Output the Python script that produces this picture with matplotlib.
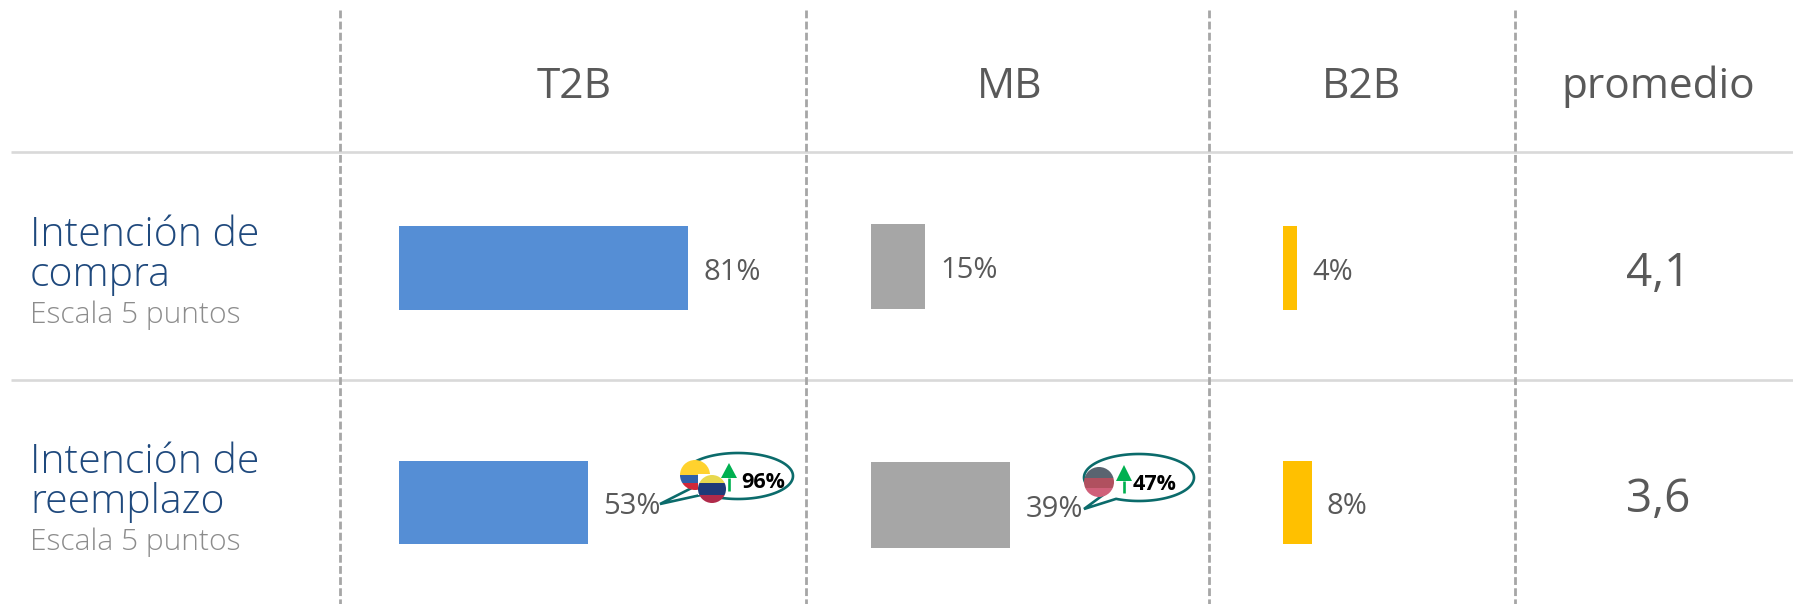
import numpy as np
import matplotlib
matplotlib.use("Agg")
import matplotlib.pyplot as plt
from matplotlib.patches import Circle, Polygon, Rectangle

W, H = 1793, 604

# data
headers = ["T2B", "MB", "B2B", "promedio"]
rows = ["Intención de\ncompra", "Intención de\nreemplazo"]
scale_label = "Escala 5 puntos"
t2b = [81, 53]
mb = [15, 39]
b2b = [4, 8]
promedio = ["4,1", "3,6"]
callouts = ["96%", "47%"]

BLUE = "#558ED5"
GREY = "#A6A6A6"
GOLD = "#FFC000"
TEXT = "#595959"
TEAL = "#0B6B6B"
GREEN = "#00B050"

plt.rcParams["font.family"] = "Open Sans"

fig = plt.figure(figsize=(W / 100, H / 100), dpi=100)

# background axes in pixels, for the table rules and the texts
bg = fig.add_axes([0, 0, 1, 1])
bg.set_xlim(0, W)
bg.set_ylim(H, 0)
bg.axis("off")

for y in [152, 380]:
    bg.plot([11, W], [y, y], color="#D9D9D9", lw=1.9, solid_capstyle="butt")
for x in [340, 806, 1209, 1515]:
    bg.plot([x, x], [10, H], color="#A6A6A6", lw=2, dashes=(2.8, 1.2))

for x, label in zip([574, 1010, 1361, 1658], headers):
    bg.text(x, 87, label, color=TEXT, fontsize=30.5, ha="center", va="center")

for y, label in zip([255.5, 482.5], rows):
    bg.text(30, y, label, color="#1F497D", fontsize=29.5, family="Open Sans", weight="light",
            ha="left", va="center", linespacing=0.98)
for y in [315, 542]:
    bg.text(30, y, scale_label, color="#8C8C8C", fontsize=21.6, family="Open Sans", weight="light",
            ha="left", va="center")

for y, label in zip([274, 500], promedio):
    bg.text(1658, y, label, color=TEXT, fontsize=33, ha="center", va="center")


def bar_axes(left, values, color, centers, heights):
    # 1% is about 3.57 px on all three columns
    ax = fig.add_axes([left / W, 0, 300 / W, 1])
    ax.set_xlim(0, 300 / 3.57)
    ax.set_ylim(H, 0)
    ax.axis("off")
    ax.patch.set_alpha(0)
    ax.barh(centers, values, height=heights, color=color)
    for v, c in zip(values, centers):
        ax.annotate(f"{v}%", (v, c), xytext=(11, -3), textcoords="offset points",
                    color=TEXT, fontsize=21, ha="left", va="center", annotation_clip=False)
    return ax


bar_axes(399, t2b, BLUE, [268, 502], [84, 83])
bar_axes(871, mb, GREY, [266.5, 505], [85, 86])
bar_axes(1283, b2b, GOLD, [268, 502.5], [84, 83])

# callouts, same pixel space but on top of the labels
top = fig.add_axes([0, 0, 1, 1])
top.set_xlim(0, W)
top.set_ylim(H, 0)
top.axis("off")
top.patch.set_alpha(0)


def bubble(x0, x1, y0, y1, tip, j1, j2):
    cx, cy = (x0 + x1) / 2, (y0 + y1) / 2
    a, b = (x1 - x0) / 2, (y1 - y0) / 2
    t1 = np.arctan2((j1[1] - cy) / b, (j1[0] - cx) / a) % (2 * np.pi)
    t2 = np.arctan2((j2[1] - cy) / b, (j2[0] - cx) / a) % (2 * np.pi)
    # long way round the ellipse, leaving the gap where the tail sits
    ts = np.linspace(t1, t2 + 2 * np.pi if t2 < t1 else t2, 120)
    pts = np.c_[cx + a * np.cos(ts), cy + b * np.sin(ts)]
    pts = np.vstack([pts, [tip]])
    top.add_patch(Polygon(pts, closed=True, fc="white", ec=TEAL, lw=1.9, joinstyle="miter"))


def flag(cx, cy, r, bands):
    clip = Circle((cx, cy), r, transform=top.transData)
    y = cy - r
    for color, frac in bands:
        rect = Rectangle((cx - r, y), 2 * r, 2 * r * frac, fc=color, ec="none")
        top.add_patch(rect)
        rect.set_clip_path(clip)
        y += 2 * r * frac


def up_arrow(x, y_top, y_base, y_end):
    top.add_patch(Polygon([(x - 8, y_base), (x, y_top), (x + 8, y_base)], fc=GREEN, ec="none"))
    top.plot([x, x], [y_base, y_end], color=GREEN, lw=1.9, solid_capstyle="butt")


bubble(683, 793, 453, 499, (660, 504), (692, 488), (703, 495))
flag(695, 475, 15, [("#FFD22E", 0.5), ("#2F5FA8", 0.25), ("#D0273A", 0.25)])
top.add_patch(Rectangle((698, 474), 28, 21, fc="white", ec="none"))
flag(712, 489, 14, [("#E8D84E", 0.3), ("#1F3A78", 0.4), ("#B02A4A", 0.3)])
up_arrow(729, 463, 478, 491)
top.text(763, 482, callouts[0], color="black", fontsize=15.5, weight="bold", ha="center", va="center")

bubble(1084, 1194, 454, 501, (1084, 509), (1097, 498), (1117, 498))
flag(1099, 482, 15, [("#5A6470", 0.35), ("#B0505F", 0.35), ("#D0607A", 0.3)])
up_arrow(1124, 465, 481, 493)
top.text(1155, 484, callouts[1], color="black", fontsize=15.5, weight="bold", ha="center", va="center")

fig.savefig("out.png", dpi=100)
